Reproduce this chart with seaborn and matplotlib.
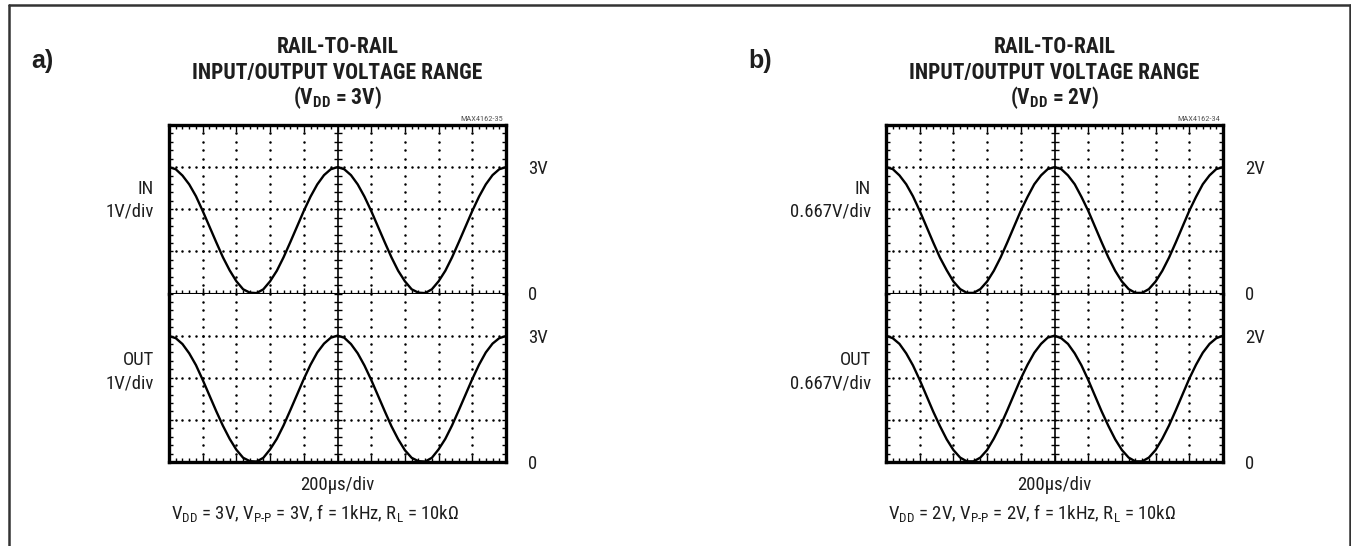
import numpy as np
import seaborn as sns
import matplotlib
matplotlib.use('Agg')
import matplotlib.pyplot as plt
from matplotlib.ticker import MultipleLocator, FixedLocator
from matplotlib.lines import Line2D

W, H = 1351, 546

# sample times in microseconds (200 us/div, 10 divisions)
time_us = [0, 40, 80, 120, 160, 200, 240, 280, 320, 360, 400, 440, 480, 520,
           560, 600, 640, 680, 720, 760, 800, 840, 880, 920, 960, 1000,
           1040, 1080, 1120, 1160, 1200, 1240, 1280, 1320, 1360, 1400, 1440,
           1480, 1520, 1560, 1600, 1640, 1680, 1720, 1760, 1800, 1840, 1880,
           1920, 1960, 2000]

# voltages
a_in = [3.00, 2.95, 2.80, 2.59, 2.31, 1.96, 1.59, 1.22, 0.86, 0.55, 0.29, 0.10, 0.02,
        0.01, 0.10, 0.29, 0.54, 0.86, 1.22, 1.59, 1.96, 2.30, 2.59, 2.81, 2.95, 3.00,
        2.95, 2.81, 2.59, 2.30, 1.96, 1.59, 1.22, 0.86, 0.54, 0.29, 0.10, 0.02,
        0.01, 0.10, 0.29, 0.54, 0.86, 1.22, 1.59, 1.96, 2.30, 2.59, 2.81, 2.95, 3.00]
a_out = [2.99, 2.94, 2.80, 2.58, 2.30, 1.95, 1.58, 1.21, 0.86, 0.55, 0.29, 0.10, 0.02,
         0.01, 0.10, 0.30, 0.55, 0.87, 1.23, 1.60, 1.97, 2.31, 2.60, 2.81, 2.95, 3.00,
         2.95, 2.80, 2.58, 2.29, 1.95, 1.58, 1.21, 0.85, 0.54, 0.28, 0.10, 0.02,
         0.01, 0.10, 0.30, 0.55, 0.87, 1.23, 1.60, 1.97, 2.31, 2.60, 2.81, 2.94, 2.99]
b_in = [2.00, 1.97, 1.87, 1.73, 1.54, 1.31, 1.06, 0.81, 0.57, 0.37, 0.19, 0.07, 0.01,
        0.01, 0.07, 0.19, 0.36, 0.57, 0.81, 1.06, 1.31, 1.53, 1.73, 1.87, 1.97, 2.00,
        1.97, 1.87, 1.73, 1.53, 1.31, 1.06, 0.81, 0.57, 0.36, 0.19, 0.07, 0.01,
        0.01, 0.07, 0.19, 0.36, 0.57, 0.81, 1.06, 1.31, 1.53, 1.73, 1.87, 1.97, 2.00]
b_out = [2.00, 1.96, 1.87, 1.72, 1.53, 1.30, 1.05, 0.80, 0.57, 0.36, 0.19, 0.07, 0.01,
         0.01, 0.07, 0.19, 0.37, 0.58, 0.82, 1.07, 1.32, 1.54, 1.73, 1.87, 1.97, 2.00,
         1.96, 1.87, 1.72, 1.53, 1.30, 1.05, 0.80, 0.57, 0.36, 0.19, 0.07, 0.01,
         0.01, 0.07, 0.19, 0.37, 0.58, 0.82, 1.07, 1.32, 1.54, 1.73, 1.87, 1.96, 2.00]

panel_tags = ['a)', 'b)']
vdd_values = [3, 2]
volts_per_div = [1.0, 0.667]
div_labels = ['1V/div', '0.667V/div']
part_codes = ['MAX4162-35', 'MAX4162-34']
in_traces = [a_in, b_in]
out_traces = [a_out, b_out]

sns.set_theme(style='white')
plt.rcParams['font.family'] = ['Roboto Condensed', 'Liberation Sans', 'DejaVu Sans']
plt.rcParams['mathtext.fontset'] = 'custom'
plt.rcParams['mathtext.rm'] = 'Roboto Condensed'
plt.rcParams['mathtext.bf'] = 'Roboto Condensed:bold'
plt.rcParams['mathtext.it'] = 'Roboto Condensed:italic'

TXT = '#1e1e1e'
fig = plt.figure(figsize=(W / 100, H / 100), dpi=100)


def fx(x):
    return x / W


def fy(y):
    return 1 - y / H


def scope_half(ax, v, vdiv, vdd, upper):
    top = 4 * vdiv
    ax.set_xlim(0, 2000)
    ax.set_ylim(0, top)
    sns.lineplot(x=time_us, y=v, ax=ax, color='black', linewidth=1.7, sort=False)

    minor_x = np.arange(0, 2001, 40)
    minor_y = np.linspace(0, top, 21)
    # dotted graticule
    for gx in range(200, 2000, 200):
        if gx == 1000:
            continue
        ax.plot([gx] * len(minor_y), minor_y, ls='none', marker='o', ms=1.8,
                color='black', mew=0)
    for k in (1, 2, 3):
        ax.plot(minor_x, [k * vdiv] * len(minor_x), ls='none', marker='o', ms=1.8,
                color='black', mew=0)
    # centre vertical with cross ticks
    ax.axvline(1000, color='black', lw=1.2)
    ax.plot([1000] * len(minor_y), minor_y, ls='none', marker='_', ms=6,
            mew=1.0, color='black')

    for s in ax.spines.values():
        s.set_color('black')
        s.set_linewidth(2.4)
    ax.xaxis.set_major_locator(MultipleLocator(200))
    ax.xaxis.set_minor_locator(MultipleLocator(40))
    ax.yaxis.set_major_locator(FixedLocator([0, vdd]))
    ax.yaxis.set_minor_locator(FixedLocator(minor_y))
    ax.set_yticklabels(['0', f'{vdd}V'])
    ax.tick_params(which='both', direction='in', length=3, width=1, color='black',
                   left=True, right=True, top=upper, bottom=not upper,
                   labelleft=False, labelbottom=False, labelright=True)
    ax.tick_params(axis='x', which='major', length=5)
    ax.tick_params(axis='y', which='major', pad=16, labelsize=13.5, labelcolor=TXT)
    ax.set_xlabel('')
    ax.set_ylabel('')

    if upper:
        ax.spines['bottom'].set_linewidth(1.5)
        # centre horizontal with cross ticks
        ax.plot(minor_x, [0] * len(minor_x), ls='none', marker='|', ms=6,
                mew=1.0, color='black', clip_on=False)
        ax.plot(np.arange(0, 2001, 200), [0] * 11, ls='none', marker='|', ms=9,
                mew=1.0, color='black', clip_on=False)
    else:
        ax.spines['top'].set_visible(False)


plot_left = [169, 886]
plot_w = 337
plot_top, plot_mid, plot_bot = 125, 293.5, 462

for i in range(2):
    x0 = plot_left[i]
    ax_in = fig.add_axes([fx(x0), fy(plot_mid), plot_w / W, (plot_mid - plot_top) / H])
    ax_out = fig.add_axes([fx(x0), fy(plot_bot), plot_w / W, (plot_bot - plot_mid) / H])
    scope_half(ax_in, in_traces[i], volts_per_div[i], vdd_values[i], True)
    scope_half(ax_out, out_traces[i], volts_per_div[i], vdd_values[i], False)

    cx = x0 + plot_w / 2
    vdd = vdd_values[i]
    fig.text(fx(x0 - 138), fy(61), panel_tags[i], fontsize=18, fontweight='bold',
             family=['Liberation Sans', 'DejaVu Sans'], ha='left', va='center',
             color=TXT)
    fig.text(fx(cx), fy(47), 'RAIL-TO-RAIL', fontsize=15.5, fontweight='bold',
             ha='center', va='center', color=TXT)
    fig.text(fx(cx), fy(73), 'INPUT/OUTPUT VOLTAGE RANGE', fontsize=15.5,
             fontweight='bold', ha='center', va='center', color=TXT)
    fig.text(fx(cx), fy(98), rf'(V$_{{\mathbf{{DD}}}}$ = {vdd}V)', fontsize=15.5,
             fontweight='bold', ha='center', va='center', color=TXT)
    fig.text(fx(x0 + plot_w - 3), fy(119), part_codes[i], fontsize=6,
             ha='right', va='center', color='#555555')

    fig.text(fx(x0 - 15), fy(189), 'IN', fontsize=13.5, ha='right', va='center', color=TXT)
    fig.text(fx(x0 - 15), fy(211), div_labels[i], fontsize=13.5, ha='right', va='center', color=TXT)
    fig.text(fx(x0 - 15), fy(360), 'OUT', fontsize=13.5, ha='right', va='center', color=TXT)
    fig.text(fx(x0 - 15), fy(383), div_labels[i], fontsize=13.5, ha='right', va='center', color=TXT)

    fig.text(fx(cx), fy(485), '200\u00b5s/div', fontsize=13.5, ha='center', va='center', color=TXT)
    fig.text(fx(x0 + 2), fy(513),
             rf'V$_\mathrm{{DD}}$ = {vdd}V, V$_\mathrm{{P\text{{-}}P}}$ = {vdd}V, '
             rf'f = 1kHz, R$_\mathrm{{L}}$ = 10k$\Omega$',
             fontsize=13.5, ha='left', va='center', color=TXT)

# outer frame
frame = dict(transform=fig.transFigure, color='#333333', lw=1.8)
fig.add_artist(Line2D([fx(9), fx(9)], [0, fy(5)], **frame))
fig.add_artist(Line2D([fx(9), fx(1350)], [fy(5), fy(5)], **frame))
fig.add_artist(Line2D([fx(1349.5), fx(1349.5)], [0, fy(5)], **frame))

fig.savefig('out.png', dpi=100)
